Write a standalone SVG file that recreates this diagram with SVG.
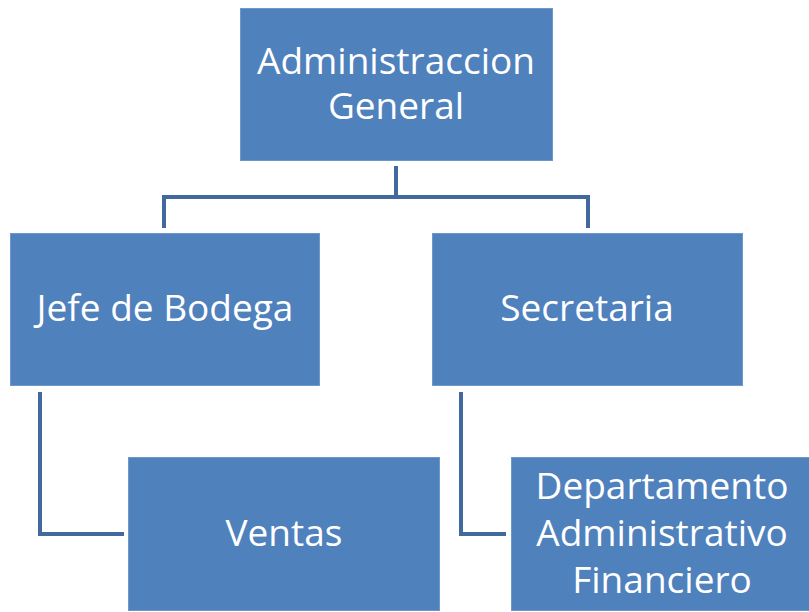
<svg xmlns="http://www.w3.org/2000/svg" width="809" height="612" viewBox="0 0 809 612">
<style>
.box{fill:#4F81BD;stroke:#6F97C9;stroke-width:1}
.lbl{fill:#fff;font-family:"Open Sans","Noto Sans",sans-serif;font-size:37px;text-anchor:middle}
.con{fill:none;stroke:#41699E;stroke-width:4}
</style>
<rect width="809" height="612" fill="#fff"/>
<g id="connectors">
<path class="con" d="M396,166 V197 M164,228 V197 H588 V228"/>
<path class="con" d="M40,392 V534 H124"/>
<path class="con" d="M461,392 V534 H506"/>
</g>
<g id="n-admin">
<rect class="box" x="240.5" y="8.5" width="312" height="152"/>
<text class="lbl" x="396" y="74">Administraccion</text>
<text class="lbl" x="396" y="119">General</text>
</g>
<g id="n-jefe">
<rect class="box" x="10.5" y="233.5" width="309" height="152"/>
<text class="lbl" x="165" y="321">Jefe de Bodega</text>
</g>
<g id="n-secretaria">
<rect class="box" x="432.5" y="233.5" width="310" height="152"/>
<text class="lbl" x="587" y="321">Secretaria</text>
</g>
<g id="n-ventas">
<rect class="box" x="128.5" y="457.5" width="311" height="153"/>
<text class="lbl" x="284" y="546">Ventas</text>
</g>
<g id="n-depto">
<rect class="box" x="511.5" y="457.5" width="300" height="153"/>
<text class="lbl" x="662" y="499">Departamento</text>
<text class="lbl" x="662" y="546">Administrativo</text>
<text class="lbl" x="662" y="593">Financiero</text>
</g>
</svg>
